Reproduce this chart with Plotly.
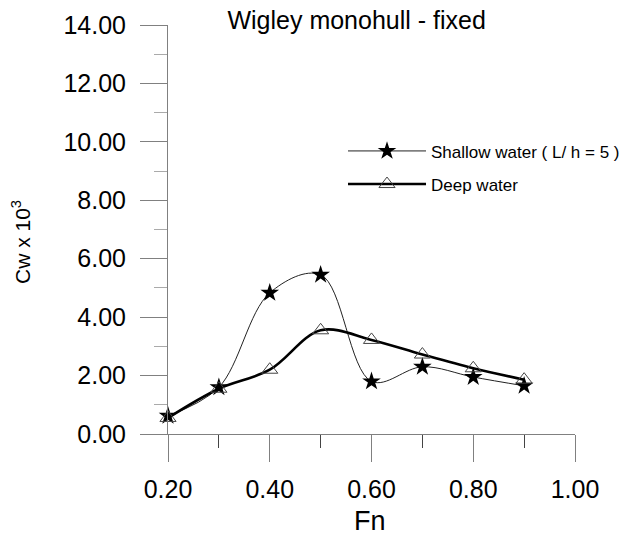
import plotly.graph_objects as go

fn = [0.2, 0.3, 0.4, 0.5, 0.6, 0.7, 0.8, 0.9]
shallow = [0.62, 1.60, 4.83, 5.45, 1.80, 2.30, 1.95, 1.65]
deep = [0.55, 1.55, 2.20, 3.55, 3.22, 2.72, 2.25, 1.86]

title_text = "Wigley monohull - fixed"
x_title = "Fn"
y_title = "Cw x 10<sup>3</sup>"
name_shallow = "Shallow water ( L/ h = 5 )"
name_deep = "Deep water"

fig = go.Figure()
fig.add_trace(go.Scatter(
    x=fn, y=shallow, name=name_shallow, mode="lines+markers", legendgroup="a",
    line=dict(color="#222", width=1, shape="spline", smoothing=1),
    marker=dict(symbol="star", size=14, color="black", line=dict(width=0)),
    cliponaxis=False,
))
fig.add_trace(go.Scatter(
    x=fn, y=deep, name=name_deep, mode="lines+markers", legendgroup="b",
    line=dict(color="black", width=2.6, shape="spline", smoothing=1),
    marker=dict(symbol="triangle-up-open", size=14, color="#444", line=dict(width=1)),
    cliponaxis=False,
))

font_main = "Liberation Sans, Arial, sans-serif"
axis_col = "#808080"

fig.update_layout(
    width=629, height=538,
    margin=dict(l=168, r=54, t=25, b=104, autoexpand=False),
    plot_bgcolor="white", paper_bgcolor="white",
    font=dict(family=font_main, color="black", size=17),
    title=dict(text=title_text, x=0.567, xanchor="center", xref="container",
               y=1 - 20 / 538, yanchor="middle", yref="container",
               font=dict(family=font_main, size=25, color="black")),
    showlegend=True,
    legend=dict(x=0.43, xanchor="left", y=0.735, yanchor="top",
                font=dict(size=17, family=font_main), bgcolor="rgba(0,0,0,0)",
                itemwidth=78, traceorder="grouped", tracegroupgap=8),
    xaxis=dict(range=[0.2, 1.0], dtick=0.2, tick0=0.2, tickformat=".2f",
               showgrid=False, zeroline=False, showline=True, linecolor=axis_col, linewidth=1,
               ticks="outside", ticklen=27, tickcolor=axis_col, tickwidth=1,
               tickfont=dict(size=25), ticklabelstandoff=6,
               minor=dict(dtick=0.1, tick0=0.2, ticks="outside", ticklen=13, tickcolor="#444", showgrid=False)),
    yaxis=dict(range=[0, 14], dtick=2, tickformat=".2f",
               showgrid=False, zeroline=False, showline=True, linecolor=axis_col, linewidth=1,
               ticks="outside", ticklen=27, tickcolor=axis_col, tickwidth=1,
               tickfont=dict(size=25), ticklabelstandoff=9,
               minor=dict(dtick=1, ticks="outside", ticklen=13, tickcolor="#aaa", showgrid=False)),
    annotations=[
        dict(text=y_title, textangle=-90, xref="paper", yref="paper",
             x=(21 - 168) / 407, y=(434 - 242) / 409, xanchor="center", yanchor="middle",
             showarrow=False, font=dict(size=21, family=font_main)),
        dict(text=x_title, xref="paper", yref="paper",
             x=(370 - 168) / 407, y=(434 - 521) / 409, xanchor="center", yanchor="middle",
             showarrow=False, font=dict(size=27, family=font_main)),
    ],
)

fig.write_html("out.html")
